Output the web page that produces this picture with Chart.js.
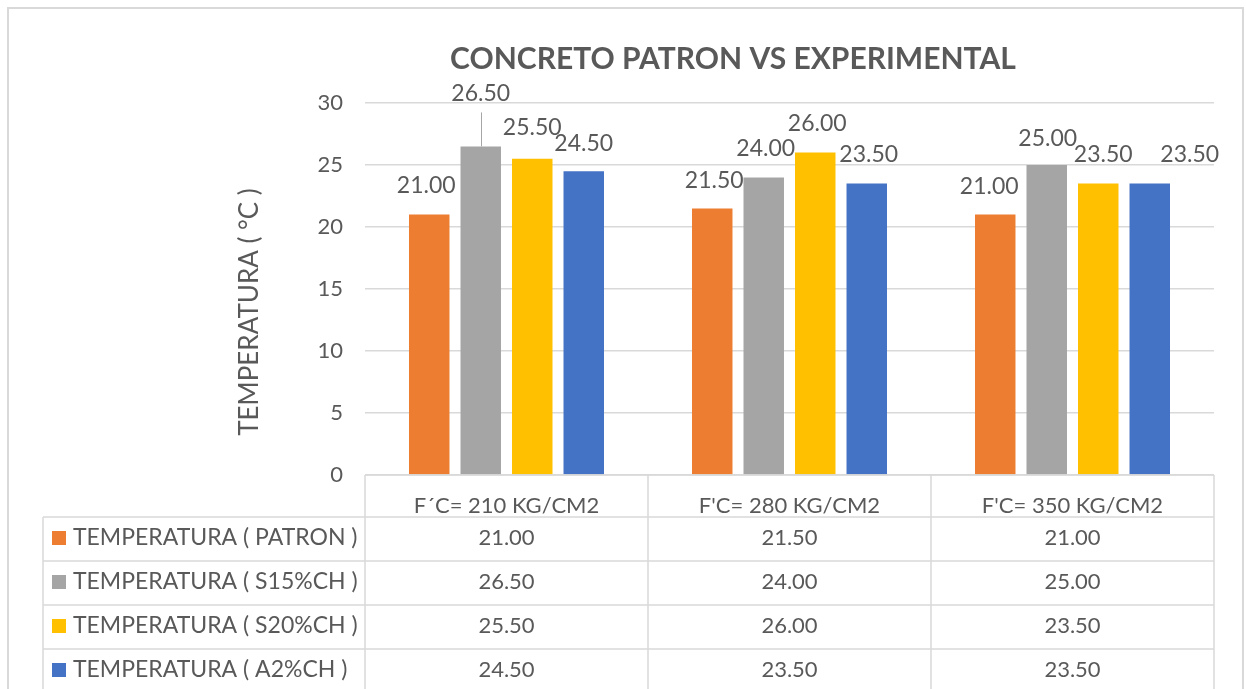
<!DOCTYPE html>
<html>
<head>
<meta charset="utf-8">
<script src="https://cdn.jsdelivr.net/npm/chart.js@4.4.0/dist/chart.umd.min.js"></script>
<style>
  body { margin: 0; background: #fff; }
  #wrap { width: 1246px; height: 689px; }
</style>
</head>
<body>
<div id="wrap"><canvas id="myChart" width="1246" height="689"></canvas></div>
<script>
// values
const categories = ['F\u00B4C= 210 KG/CM2', "F'C= 280 KG/CM2", "F'C= 350 KG/CM2"];
const seriesNames = ['TEMPERATURA ( PATRON )', 'TEMPERATURA ( S15%CH )', 'TEMPERATURA ( S20%CH )', 'TEMPERATURA ( A2%CH )'];
const patron = [21.0, 21.5, 21.0];
const s15 = [26.5, 24.0, 25.0];
const s20 = [25.5, 26.0, 23.5];
const a2 = [24.5, 23.5, 23.5];
const yTicks = [0, 5, 10, 15, 20, 25, 30];

const colors = ['#ED7D31', '#A5A5A5', '#FFC000', '#4472C4'];
const allSeries = [patron, s15, s20, a2];
const chartTitle = 'CONCRETO PATRON VS EXPERIMENTAL';
const yTitle = 'TEMPERATURA ( \u00B0C )';

// label nudges [dx, dy] per series / category (excel labels were moved by hand)
const labelNudge = [
    [[-3, 0], [2, 1], [-6, 1]],
    [[0, -24], [2, 0], [1, 3]],
    [[0, -2], [2, 0], [5, 0]],
    [[0, 1], [2, 0], [40, 0]]
];

const textColor = '#595959';
const lineColor = '#D9D9D9';
const FONT = 'Lato, "Open Sans", sans-serif';

const extras = {
    id: 'extras',
    afterDraw(chart) {
        const ctx = chart.ctx;
        const area = chart.chartArea;
        const xs = chart.scales.x;
        const colW = (area.right - area.left) / categories.length;

        ctx.save();
        ctx.fillStyle = textColor;
        ctx.textAlign = 'center';
        ctx.textBaseline = 'middle';

        // title
        ctx.font = 'bold 30px ' + FONT;
        ctx.fillText(chartTitle, 733, 59);

        // y axis title
        ctx.save();
        ctx.translate(250, 312);
        ctx.rotate(-Math.PI / 2);
        ctx.font = '26px ' + FONT;
        ctx.fillText(yTitle, 0, 0);
        ctx.restore();

        // data labels
        ctx.font = '23px ' + FONT;
        chart.data.datasets.forEach((ds, di) => {
            const meta = chart.getDatasetMeta(di);
            meta.data.forEach((bar, i) => {
                const n = labelNudge[di][i];
                const lx = bar.x + n[0];
                const ly = bar.y - 29 + n[1];
                if (n[1] < -10) {
                    ctx.strokeStyle = '#A6A6A6';
                    ctx.lineWidth = 1;
                    ctx.beginPath();
                    ctx.moveTo(Math.round(bar.x) + 0.5, bar.y);
                    ctx.lineTo(Math.round(bar.x) + 0.5, ly + 19);
                    ctx.stroke();
                }
                ctx.fillText(ds.data[i].toFixed(2), lx, ly);
            });
        });

        // data table
        const rowTop = 517;
        const rowH = 44;
        const tableLeft = 43;
        ctx.strokeStyle = lineColor;
        ctx.lineWidth = 1.5;
        ctx.beginPath();
        ctx.moveTo(area.left, area.bottom);
        ctx.lineTo(area.right, area.bottom);
        for (let c = 0; c <= categories.length; c++) {
            const x = area.left + c * colW;
            ctx.moveTo(x, area.bottom);
            ctx.lineTo(x, chart.height);
        }
        ctx.moveTo(tableLeft, rowTop);
        ctx.lineTo(tableLeft, chart.height);
        for (let r = 0; r < seriesNames.length; r++) {
            const y = rowTop + r * rowH;
            ctx.moveTo(tableLeft, y);
            ctx.lineTo(area.right, y);
        }
        ctx.stroke();

        seriesNames.forEach((name, r) => {
            const cy = rowTop + r * rowH + rowH / 2 - 1;
            ctx.fillStyle = colors[r];
            ctx.fillRect(52, cy - 7, 14, 14);
            ctx.fillStyle = textColor;
            ctx.textAlign = 'left';
            ctx.font = '23px ' + FONT;
            ctx.fillText(name, 73, cy);
            ctx.textAlign = 'center';
            ctx.font = '22px ' + FONT;
            allSeries[r].forEach((v, c) => {
                ctx.fillText(v.toFixed(2), xs.getPixelForValue(c), cy);
            });
        });

        // outer frame
        ctx.strokeStyle = lineColor;
        ctx.lineWidth = 2;
        ctx.strokeRect(8, 8, 1235, 700);
        ctx.restore();
    }
};

const ctx = document.getElementById('myChart').getContext('2d');
const chart = new Chart(ctx, {
    type: 'bar',
    data: {
        labels: categories,
        datasets: seriesNames.map((name, i) => ({
            label: name,
            data: allSeries[i],
            backgroundColor: colors[i],
            categoryPercentage: 0.728,
            barPercentage: 0.786
        }))
    },
    options: {
        responsive: false,
        devicePixelRatio: 1,
        animation: false,
        layout: {
            padding: { top: 103, right: 32, left: 0, bottom: 0 }
        },
        plugins: {
            legend: { display: false },
            title: { display: false },
            tooltip: { enabled: false }
        },
        scales: {
            x: {
                grid: { display: false },
                border: { display: false },
                ticks: {
                    color: textColor,
                    font: { family: FONT, size: 22 },
                    padding: 10,
                    maxRotation: 0
                },
                afterFit: s => { s.height = 214; }
            },
            y: {
                min: 0,
                max: 30,
                afterBuildTicks: s => { s.ticks = yTicks.map(v => ({ value: v })); },
                grid: { color: lineColor, lineWidth: 1.5, drawTicks: false },
                border: { display: false },
                ticks: {
                    color: textColor,
                    font: { family: FONT, size: 22 },
                    padding: 22
                },
                afterFit: s => { s.width = 365; }
            }
        }
    },
    plugins: [extras]
});
</script>
</body>
</html>
